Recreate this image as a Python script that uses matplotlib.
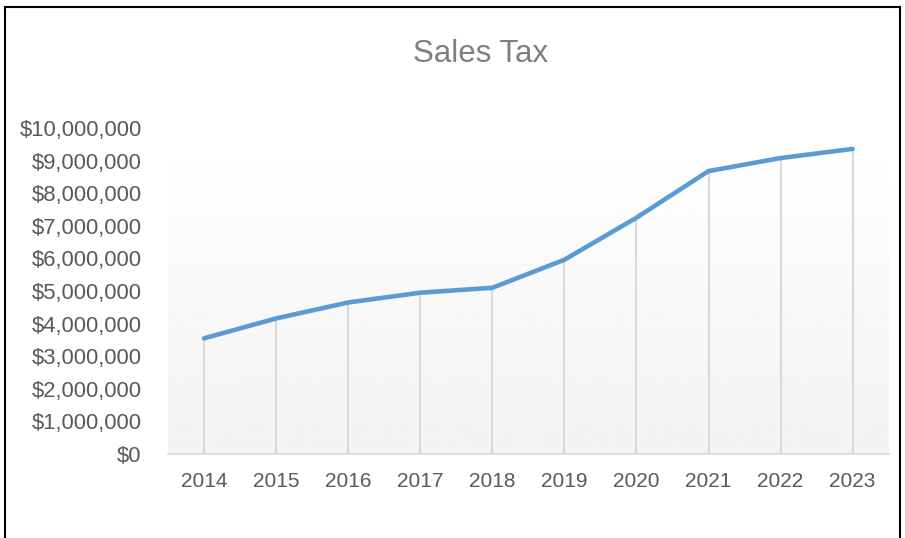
import matplotlib.pyplot as plt
import numpy as np
from matplotlib.ticker import FuncFormatter
from matplotlib.patches import Rectangle

plt.rcParams['font.family'] = ['Liberation Sans', 'DejaVu Sans']

years = ['2014', '2015', '2016', '2017', '2018', '2019', '2020', '2021', '2022', '2023']
sales_tax = [3.55e6, 4.16e6, 4.65e6, 4.95e6, 5.10e6, 5.96e6, 7.25e6, 8.68e6, 9.08e6, 9.36e6]

fig = plt.figure(figsize=(9.05, 5.38), dpi=100)
ax = fig.add_axes([0.1856, 0.156, 0.7964, 0.606])

x = np.arange(len(years))

# gradient background (light gray at bottom fading to white near the top)
grad = np.linspace(0xf2 / 255, 0xfe / 255, 256).reshape(-1, 1)
ax.imshow(grad, cmap='gray', vmin=0, vmax=1, aspect='auto',
          extent=(0, 1, 0, 0.885), origin='lower', transform=ax.transAxes, zorder=0)

ax.vlines(x, 0, sales_tax, color='#d9d9d9', lw=1.5, zorder=1)
ax.plot(x, sales_tax, color='#5b9bd5', lw=3.3, solid_capstyle='round', zorder=3)

ax.set_xlim(-0.5, len(years) - 0.5)
ax.set_ylim(0, 10e6)
ax.set_yticks(np.arange(0, 10e6 + 1, 1e6))
ax.yaxis.set_major_formatter(FuncFormatter(lambda v, p: '${:,.0f}'.format(v)))
ax.set_xticks(x)
ax.set_xticklabels(years)

for s in ['top', 'right', 'left']:
    ax.spines[s].set_visible(False)
ax.spines['bottom'].set_color('#d9d9d9')
ax.spines['bottom'].set_linewidth(1.2)
ax.tick_params(axis='both', length=0, labelcolor='#595959')
ax.tick_params(axis='x', pad=13, labelsize=15)
ax.tick_params(axis='y', pad=19, labelsize=15.8)

fig.text(0.5315, 0.9, 'Sales Tax', ha='center', va='center', fontsize=22.5, color='#7f7f7f')

# outer border of chart
fig.patches.append(Rectangle((0.0055, -0.05), 0.989, 1.037, transform=fig.transFigure,
                             fill=False, edgecolor='black', lw=1.5))

fig.savefig('out.png', dpi=100)
